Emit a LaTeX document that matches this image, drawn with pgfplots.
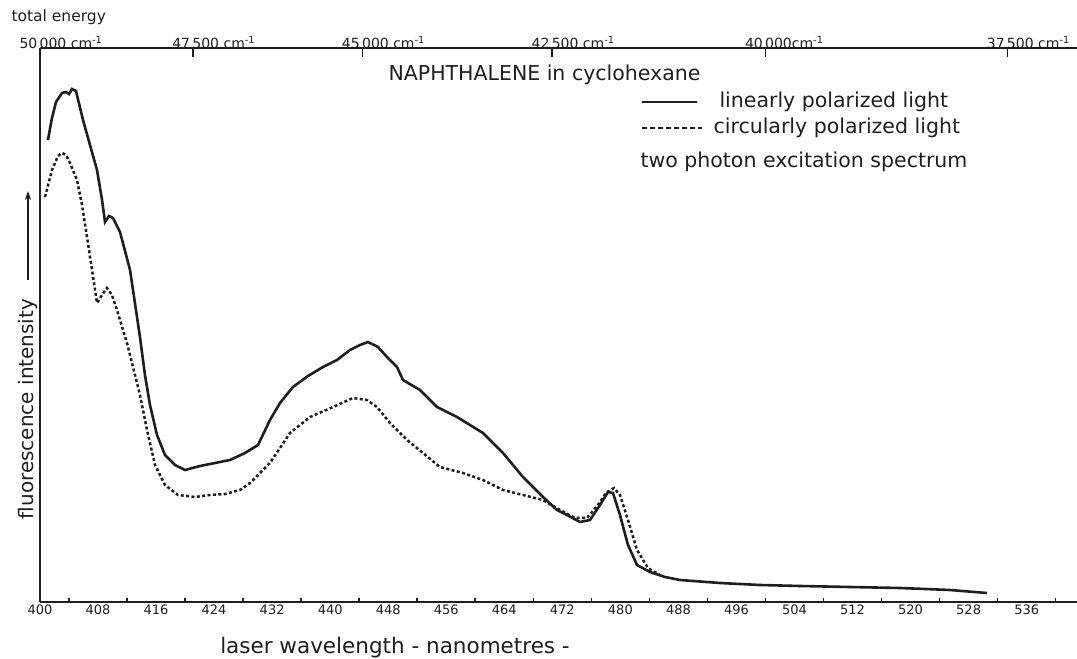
\documentclass[border=0pt]{standalone}
\usepackage{pgfplots}
\pgfplotsset{compat=1.18}
\usepackage{fontspec}
\setmainfont{DejaVu Sans}
\usetikzlibrary{arrows.meta}
\definecolor{ink}{RGB}{30,30,30}

\pgfplotstableread{
nm v
401.10 462
401.65 484
402.21 500
403.03 509
403.58 510
404.00 508
404.41 513
404.96 511
405.93 482
406.89 457
407.86 432
408.55 402
408.96 380
409.51 386
410.06 384
411.03 370
412.41 332
413.78 265
414.47 227
415.16 197
416.13 167
417.23 147
418.61 137
419.99 132
422.05 136
424.12 139
426.19 142
428.26 149
430.05 157
431.70 182
433.08 199
434.87 215
436.94 226
439.01 235
440.94 242
442.73 252
444.11 257
445.21 260
446.59 255
447.83 245
449.21 235
450.03 222
452.38 212
454.72 195
457.48 185
461.06 169
463.82 149
466.57 125
469.33 105
471.26 92
472.64 87
474.43 80
475.81 82
477.19 97
478.29 110
478.98 109
479.94 87
481.05 57
482.29 37
484.08 30
486.15 25
488.22 22
493.73 19
499.24 17
504.76 16
511.65 15
518.54 14
525.43 12
530.53 9
}\linear

\pgfplotstableread{
nm v
400.69 405
401.65 432
402.48 446
403.03 449
403.58 447
404.14 439
405.10 422
405.79 397
406.48 365
407.17 332
407.86 299
408.55 307
409.23 314
409.92 307
410.61 292
411.99 259
412.82 235
413.78 207
414.75 172
415.85 137
417.23 117
419.02 107
421.36 105
423.43 107
425.50 108
427.57 112
428.95 119
431.70 139
434.46 169
437.22 185
440.39 195
443.14 204
445.07 202
446.45 195
448.24 179
450.59 162
452.79 149
455.13 135
458.30 129
461.06 122
463.82 112
466.57 107
469.33 102
471.67 92
473.74 84
475.40 84
476.91 97
478.01 109
479.12 114
479.94 107
481.05 82
482.29 52
483.80 34
485.46 27
}\circular

\begin{document}
\begin{tikzpicture}
\useasboundingbox (0pt,0pt) rectangle (1077pt,659pt);

\begin{axis}[
  at={(40pt,57pt)}, anchor=south west,
  scale only axis, width=1037pt, height=554pt,
  xmin=400, xmax=542.94, ymin=0, ymax=554,
  axis x line*=bottom, axis y line*=left,
  axis line style={line width=2pt, ink},
  xtick={400,408,...,536},
  xticklabels={400,408,416,424,432,440,448,456,464,472,480,488,496,504,512,520,528,536},
  major tick length=0pt,
  minor xtick={404,412,...,540},
  minor tick length=4pt,
  tick align=inside,
  tick style={line width=1.6pt, ink},
  ytick=\empty,
  xticklabel style={font=\fontsize{13}{13}\selectfont, text=ink, inner sep=1pt, yshift=-1.5pt},
]
\addplot[line width=2.6pt, ink] table[x=nm, y=v] {\linear};
\addplot[line width=2.5pt, ink, dash pattern=on 3pt off 2.4pt] table[x=nm, y=v] {\circular};
\end{axis}

\begin{axis}[
  at={(40pt,57pt)}, anchor=south west,
  scale only axis, width=1037pt, height=554pt,
  xmin=400, xmax=542.94, ymin=0, ymax=554,
  axis x line*=top, axis y line=none,
  axis line style={line width=2pt, ink},
  xtick={400,421.0526,444.4444,470.5882,500,533.3333},
  xticklabels={50\,000 cm\textsuperscript{-1},47\,500 cm\textsuperscript{-1},45\,000 cm\textsuperscript{-1},42\,500 cm\textsuperscript{-1},40\,000cm\textsuperscript{-1},37\,500 cm\textsuperscript{-1}},
  major tick length=9pt,
  tick align=inside,
  tick style={line width=1.6pt, ink},
  xticklabel style={anchor=south west, xshift=-24pt, yshift=-4pt, font=\fontsize{14}{14}\selectfont, text=ink},
]
\end{axis}

\node[anchor=west, font=\fontsize{15.5}{15.5}\selectfont, text=ink] at (8pt,642pt) {total energy};
\node[anchor=west, font=\fontsize{20.5}{20.5}\selectfont, text=ink] at (385pt,584pt) {NAPHTHALENE in cyclohexane};
\draw[line width=2.2pt, ink] (642pt,557pt) -- (697pt,557pt);
\node[anchor=west, font=\fontsize{20.5}{20.5}\selectfont, text=ink] at (716pt,557pt) {linearly polarized light};
\draw[line width=2.2pt, ink, dash pattern=on 5pt off 3pt] (642pt,531pt) -- (702pt,531pt);
\node[anchor=west, font=\fontsize{20.5}{20.5}\selectfont, text=ink] at (710pt,531pt) {circularly polarized light};
\node[anchor=west, font=\fontsize{20.5}{20.5}\selectfont, text=ink] at (637pt,497pt) {two photon excitation spectrum};

\node[rotate=90, font=\fontsize{20}{20}\selectfont, text=ink] at (28pt,250pt) {fluorescence intensity};
\draw[-{Stealth[length=9pt,width=6pt]}, line width=1.6pt, ink] (28pt,379pt) -- (28pt,468pt);

\node[font=\fontsize{21.5}{21.5}\selectfont, text=ink] at (395pt,11pt) {laser wavelength - nanometres -};
\end{tikzpicture}
\end{document}
